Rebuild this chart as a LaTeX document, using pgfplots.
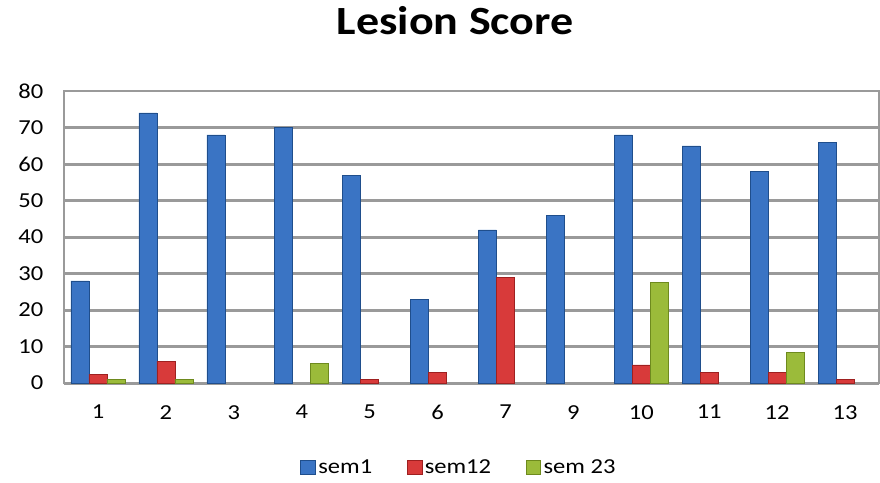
\documentclass[border=0pt]{standalone}
\usepackage{pgfplots}
\pgfplotsset{compat=1.18}
\usepackage{fontspec}
\setmainfont[FakeStretch=1.15]{Carlito}
\definecolor{bmain}{HTML}{3A74C4}
\definecolor{bdark}{HTML}{1F4E8C}
\definecolor{rmain}{HTML}{D83A3A}
\definecolor{rdark}{HTML}{9E2020}
\definecolor{gmain}{HTML}{9BBB3A}
\definecolor{gdark}{HTML}{6E8A1E}
\definecolor{gridg}{HTML}{9A9A9A}
\begin{document}
\begin{tikzpicture}
\begin{axis}[
  scale only axis,
  width=611pt, height=219pt,
  ybar=0pt, bar width=13.5pt,
  xmin=0.5, xmax=12.5,
  ymin=0, ymax=80,
  xtick={1,...,12},
  xticklabels={1,2,3,4,5,6,7,9,10,11,12,13},
  ytick={0,10,...,80},
  major tick length=0pt,
  ymajorgrids,
  major grid style={line width=2.2pt, color=gridg},
  axis line style={gridg, line width=1.5pt},
  tick label style={font=\fontsize{16}{18}\selectfont},
  /pgf/number format/assume math mode=true,
  yticklabel style={xshift=-12pt},
  xticklabel style={yshift=-13pt},
  title={Lesion Score},
  title style={at={(0.48,1)}, anchor=center, yshift=46.5pt, font=\fontsize{30}{34}\selectfont\bfseries},
  legend columns=3,
  legend style={draw=none, fill=none, at={(0.485,-0.29)}, anchor=center, font=\fontsize{16}{18}\selectfont,
    /tikz/every even column/.append style={column sep=24pt}},
  legend image code/.code={\fill[#1] (0pt,-5pt) rectangle (11pt,6pt);},
]
\addplot[draw=bdark, fill=bmain] coordinates {
(1,28) (2,74) (3,68) (4,70) (5,57) (6,23) (7,42) (8,46) (9,68) (10,65) (11,58) (12,66)};
\addplot[draw=rdark, fill=rmain] coordinates {
(1,2.5) (2,6) (5,1) (6,3) (7,29) (9,5) (10,3) (11,3) (12,1)};
\addplot[draw=gdark, fill=gmain] coordinates {
(1,1) (2,1) (4,5.5) (9,27.5) (11,8.5)};
\legend{sem1, sem12, sem 23}
\coordinate (ll) at (rel axis cs:0,0);
\coordinate (ur) at (rel axis cs:1,1);
\end{axis}
\pgfresetboundingbox
\path ([shift={(-48pt,-74.25pt)}]ll) rectangle ([shift={(0.75pt,68.25pt)}]ur);
\end{tikzpicture}
\end{document}
